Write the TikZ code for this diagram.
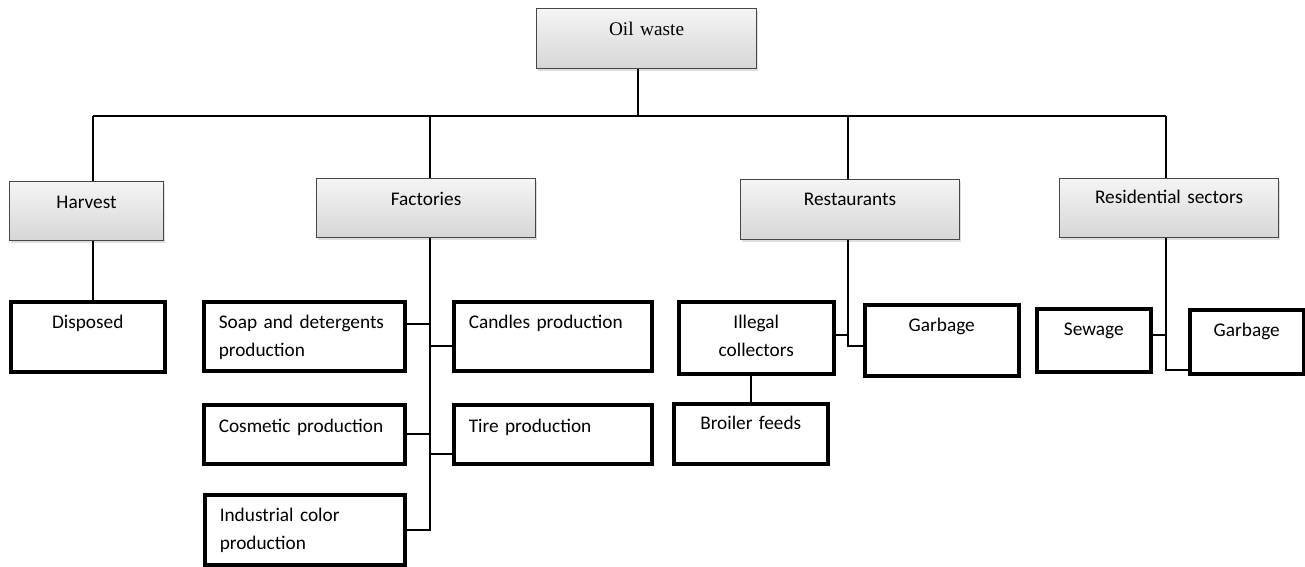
\documentclass[tikz,border=0pt]{standalone}
\usepackage{fontspec}
\setmainfont{Carlito}
\newfontfamily\oilfont{Liberation Serif}
\usepackage{tikz}
\usetikzlibrary{shadows}
\usepackage{xcolor}

\tikzset{
	headbox/.style = {draw=gray!55!black, line width=1.1pt, top color=gray!8, bottom color=gray!32,
		drop shadow={shadow xshift=1.5pt, shadow yshift=-2pt, opacity=0.25},
		anchor=north west, inner sep=0pt, align=center, font=\fontsize{19.3}{27.5}\selectfont},
	leafbox/.style = {draw, line width=3.5pt, fill=white, anchor=north west, inner ysep=0pt,
		inner xsep=0pt, align=center, font=\fontsize{19.3}{27.5}\selectfont},
	leftbox/.style = {leafbox, inner xsep=15pt, align=left},
	link/.style = {line width=2pt}
}

\begin{document}
\begin{tikzpicture}[x=1pt, y=-1pt]
		\useasboundingbox (0,0) rectangle (1305,566);
		\node[headbox, text width=220pt, text height=27pt, text depth=33pt] (oil) at (536,8) {\oilfont Oil waste};
		\node[headbox, text width=154pt, text height=27pt, text depth=32pt] (harv) at (9,181) {Harvest};
		\node[headbox, text width=219pt, text height=27pt, text depth=32pt] (fact) at (316,178) {Factories};
		\node[headbox, text width=219pt, text height=26pt, text depth=34pt] (rest) at (740,179) {Restaurants};
		\node[headbox, text width=219pt, text height=25pt, text depth=34pt] (resi) at (1059,178) {Residential sectors};
		\node[leafbox, text width=154pt, text height=27pt, text depth=43pt] (disp) at (9,300) {Disposed};
		\node[leftbox, text width=171pt, text height=27pt, text depth=42pt] (soap) at (202,300) {Soap and detergents\\production};
		\node[leftbox, text width=168pt, text height=27pt, text depth=42pt] (cand) at (452,300) {Candles production};
		\node[leftbox, text width=171pt, text height=28pt, text depth=31pt] (cosm) at (202,403) {Cosmetic production};
		\node[leftbox, text width=168pt, text height=28pt, text depth=31pt] (tire) at (452,403) {Tire production};
		\node[leftbox, text width=170pt, text height=27pt, text depth=43pt] (indu) at (203,493) {Industrial color\\production};
		\node[leafbox, text width=155pt, text height=27pt, text depth=45pt] (ille) at (677,300) {Illegal\\collectors};
		\node[leafbox, text width=154pt, text height=27pt, text depth=44pt] (garb) at (863,303) {Garbage};
		\node[leafbox, text width=154pt, text height=26pt, text depth=34pt] (broi) at (672,402) {Broiler feeds};
		\node[leafbox, text width=114pt, text height=27pt, text depth=36pt] (sewa) at (1035,307) {Sewage};
		\node[leafbox, text width=114pt, text height=27pt, text depth=37pt] (garbb) at (1188,308) {Garbage};
		\coordinate (top) at (638,116);
		\coordinate (dH) at (93,116);
		\coordinate (dF) at (430,116);
		\coordinate (dR) at (848,116);
		\coordinate (dS) at (1166,116);
		\draw[link] (top |- oil.south) -- (top);
		\draw[link] (dH) -- (dS);
		\draw[link] (dH) -- (dH |- harv.north);
		\draw[link] (dF) -- (dF |- fact.north);
		\draw[link] (dR) -- (dR |- rest.north);
		\draw[link] (dS) -- (dS |- resi.north);
		\draw[link] (dH |- harv.south) -- (dH |- disp.north);
		\draw[link] (dF |- fact.south) |- (indu.east);
		\draw[link] ([yshift=12pt]soap.east) -- ([yshift=12pt]soap.east -| dF);
		\draw[link] ([yshift=-10pt]cand.west) -- ([yshift=-10pt]cand.west -| dF);
		\draw[link] (cosm.east) -- (cosm.east -| dF);
		\draw[link] ([yshift=-20pt]tire.west) -- ([yshift=-20pt]tire.west -| dF);
		\draw[link] (dR |- rest.south) |- ([yshift=-6pt]garb.west);
		\draw[link] ([yshift=3pt]ille.east) -- ([yshift=3pt]ille.east -| dR);
		\draw[link] (ille.south -| broi.north) -- (broi.north);
		\draw[link] (dS |- resi.south) |- ([yshift=-28pt]garbb.west);
		\draw[link] ([yshift=5pt]sewa.east) -- ([yshift=5pt]sewa.east -| dS);
	\end{tikzpicture}
\end{document}
